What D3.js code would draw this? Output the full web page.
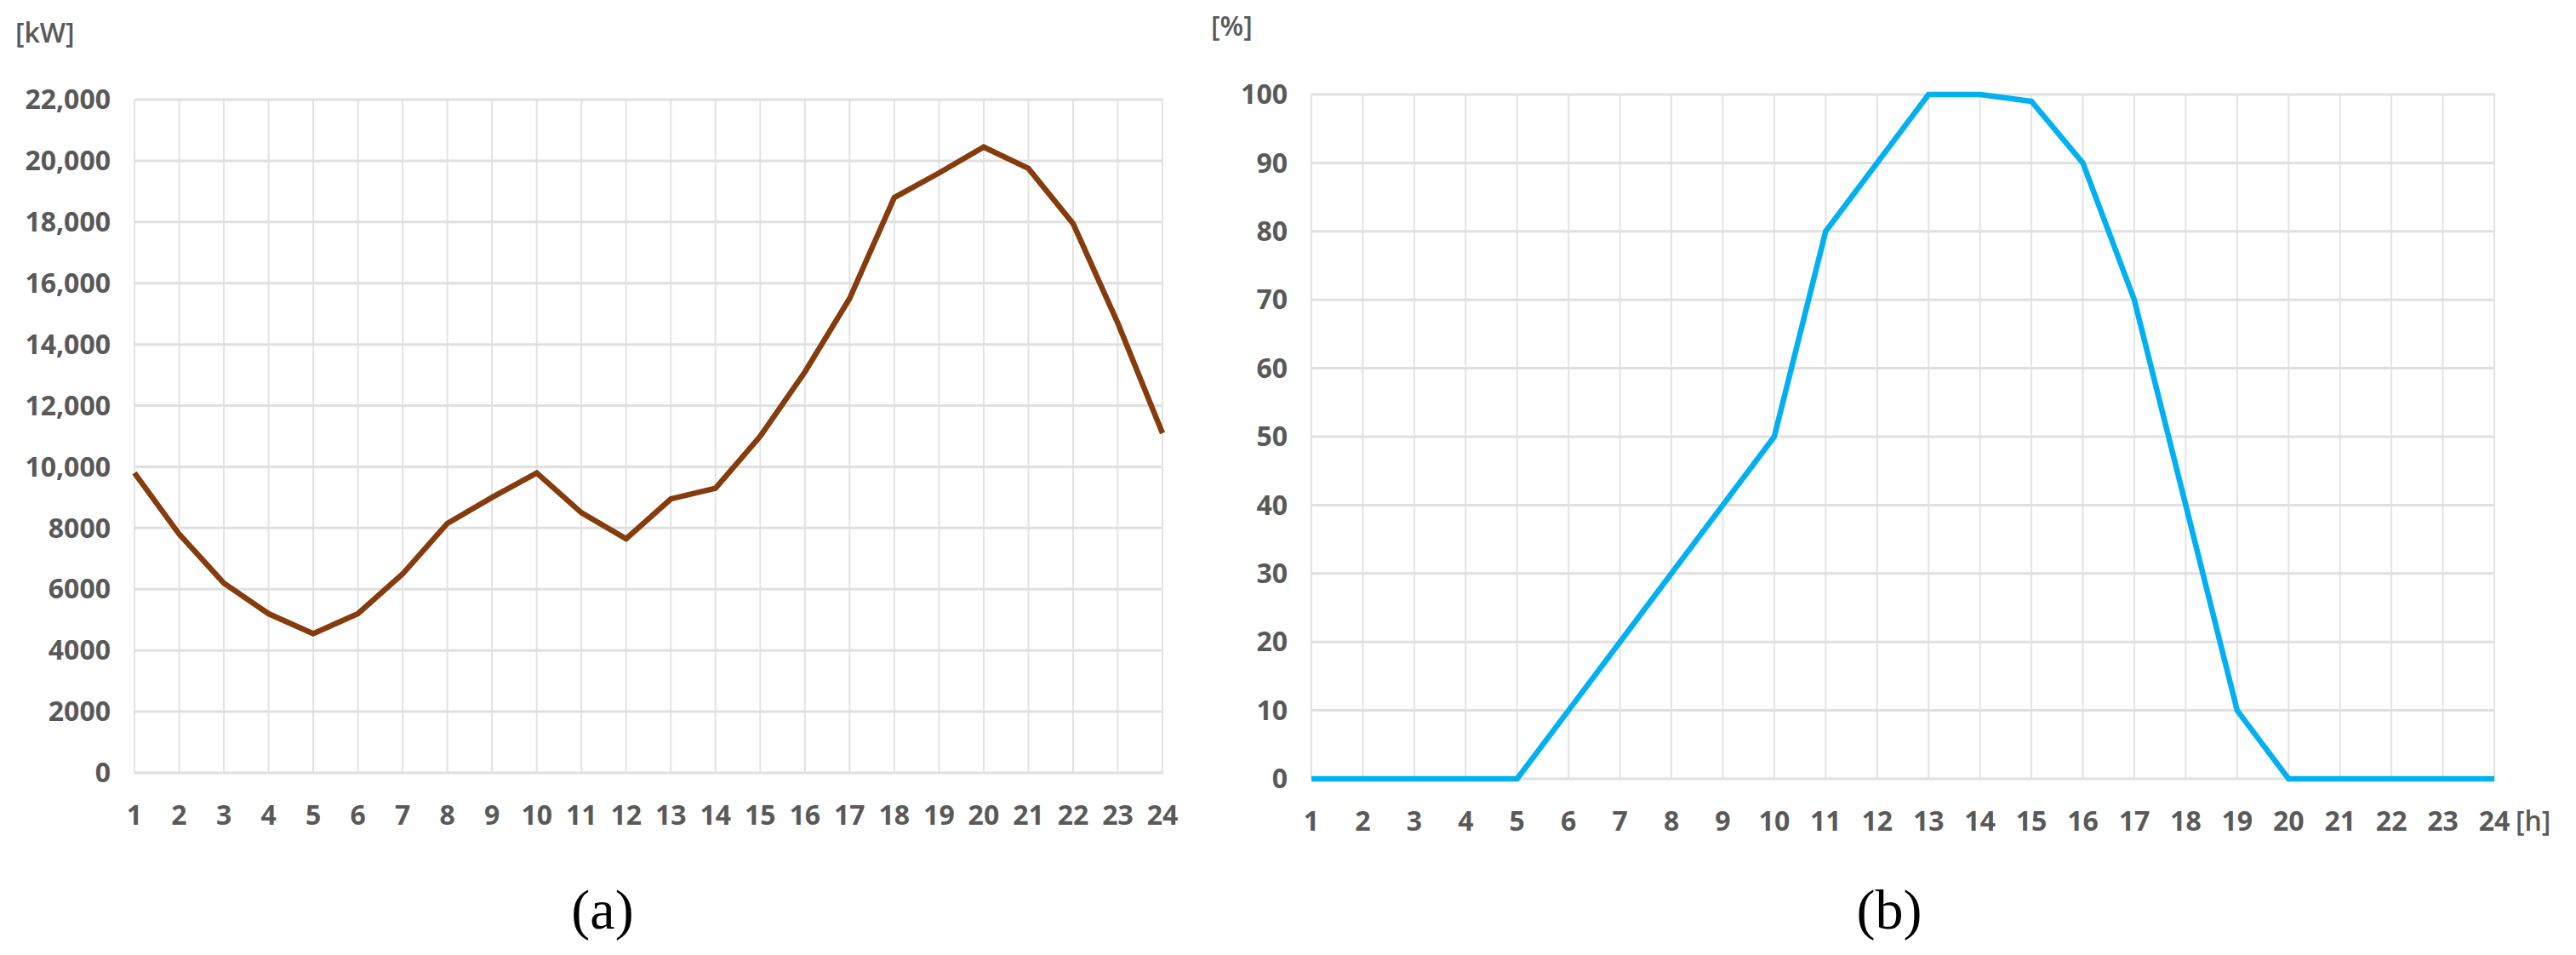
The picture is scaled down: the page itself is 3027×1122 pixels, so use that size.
<!DOCTYPE html>
<html><head><meta charset="utf-8">
<script src="https://cdn.jsdelivr.net/npm/d3@7"></script>
<style>body{margin:0;background:#fff}</style></head>
<body><svg id="c" width="3027" height="1122"></svg>
<script>
const hours = d3.range(1,25);
const loadKW = [9800,7800,6200,5200,4550,5200,6500,8150,9000,9800,8500,7650,8950,9300,11000,13100,15500,18800,19600,20450,19750,17950,14700,11100];
const pvPct = [0,0,0,0,0,10,20,30,40,50,80,90,100,100,99,90,70,40,10,0,0,0,0,0];
const kwTicks = [0,2000,4000,6000,8000,10000,12000,14000,16000,18000,20000,22000];
const kwLabels = ["0","2000","4000","6000","8000","10,000","12,000","14,000","16,000","18,000","20,000","22,000"];
const pctTicks = d3.range(0,101,10);

const svg = d3.select("#c");
const font = "'Open Sans', 'Noto Sans', sans-serif";

function panel(o){
  const g = svg.append("g");
  const x = d3.scaleLinear().domain([1,24]).range([o.x0,o.x1]);
  const y = d3.scaleLinear().domain(o.dom).range([o.y0,o.y1]);
  g.selectAll(".vg").data(hours).join("line")
    .attr("x1",d=>x(d)).attr("x2",d=>x(d)).attr("y1",o.y0).attr("y2",o.y1)
    .attr("stroke","#e3e3e3").attr("stroke-width",2);
  g.selectAll(".hg").data(o.ticks).join("line")
    .attr("x1",o.x0).attr("x2",o.x1).attr("y1",d=>y(d)).attr("y2",d=>y(d))
    .attr("stroke","#e0e0e0").attr("stroke-width",3);
  g.selectAll(".yl").data(o.ticks).join("text")
    .attr("x",o.x0-28).attr("y",d=>y(d)).attr("dy","0.35em")
    .attr("text-anchor","end").attr("font-family",font).attr("font-weight",700)
    .attr("font-size",32).attr("fill","#595959").text((d,i)=>o.labels[i]);
  g.selectAll(".xl").data(hours).join("text")
    .attr("x",d=>x(d)).attr("y",o.y0+50).attr("dy","0.35em")
    .attr("text-anchor","middle").attr("font-family",font).attr("font-weight",700)
    .attr("font-size",32).attr("fill","#595959").text(d=>d);
  g.append("path").datum(o.vals)
    .attr("d",d3.line().x((d,i)=>x(hours[i])).y(d=>y(d)))
    .attr("fill","none").attr("stroke",o.color).attr("stroke-width",o.lw)
    .attr("stroke-linejoin","miter");
  g.append("text").attr("x",o.ux).attr("y",o.uy).attr("font-family",font).attr("font-weight",600)
    .attr("font-size",32).attr("fill","#595959").text(o.unit);
  g.append("text").attr("x",o.cx).attr("y",1068).attr("dy","0.35em")
    .attr("text-anchor","middle").attr("font-family","'Liberation Serif', 'DejaVu Serif', serif")
    .attr("font-size",66).attr("fill","#000").text(o.cap);
  return {g,x,y};
}

panel({x0:158,x1:1366,y0:908,y1:117,dom:[0,22000],ticks:kwTicks,labels:kwLabels,
  vals:loadKW,color:"#843C0C",lw:6.5,unit:"[kW]",ux:18,uy:50,cap:"(a)",cx:708});
const p2 = panel({x0:1541,x1:2931,y0:915,y1:111,dom:[0,100],ticks:pctTicks,labels:pctTicks.map(String),
  vals:pvPct,color:"#00B0F0",lw:6.5,unit:"[%]",ux:1423,uy:42,cap:"(b)",cx:2220});
p2.g.append("text").attr("x",2956).attr("y",965).attr("dy","0.35em").attr("font-family",font).attr("font-weight",600)
  .attr("font-size",32).attr("fill","#595959").text("[h]");
</script></body></html>
